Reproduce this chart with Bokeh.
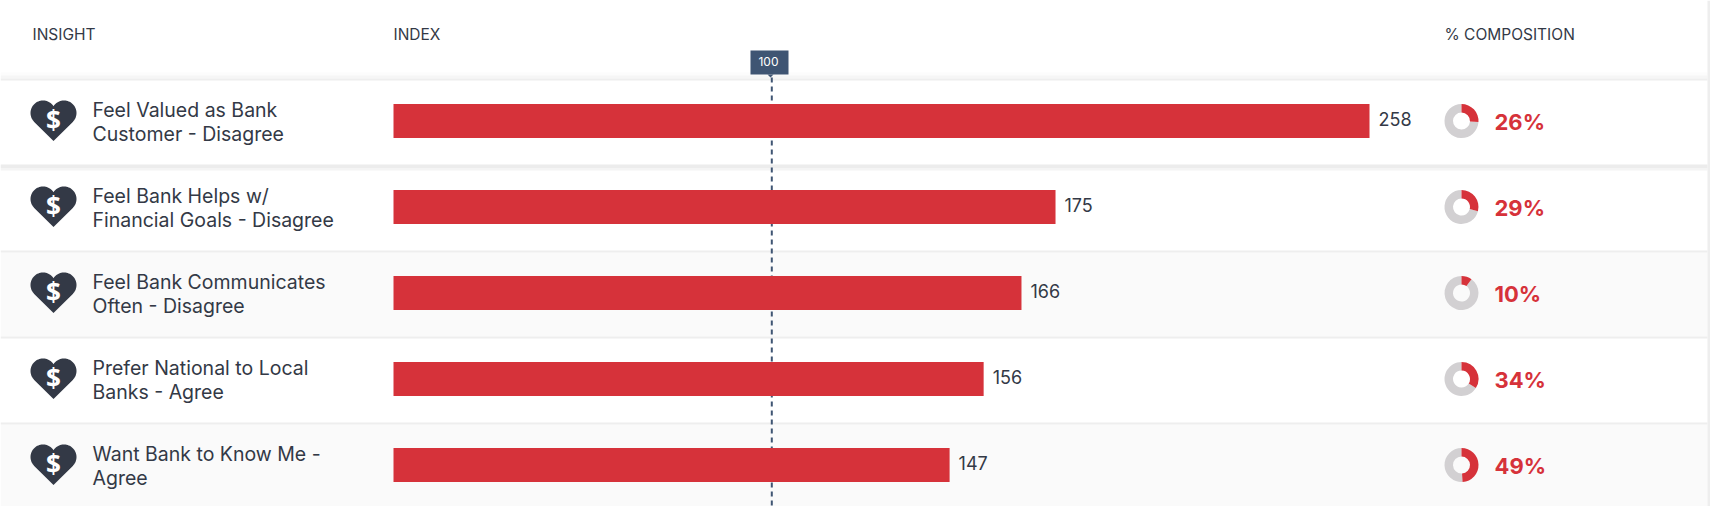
import numpy as np
from bokeh.plotting import figure
from bokeh.models import Range1d
from bokeh.core.properties import value
from bokeh.embed import file_html
from bokeh.resources import INLINE

labels_top = ["Feel Valued as Bank", "Feel Bank Helps w/", "Feel Bank Communicates", "Prefer National to Local", "Want Bank to Know Me -"]
labels_bottom = ["Customer - Disagree", "Financial Goals - Disagree", "Often - Disagree", "Banks - Agree", "Agree"]
index_values = [258, 175, 166, 156, 147]
composition = [26, 29, 10, 34, 49]
reference_index = 100
headers = ["INSIGHT", "INDEX", "% COMPOSITION"]

FONT = "Inter"
DARK = "#333946"
RED = "#d6323a"
NAVY = "#3f5573"
GREY = "#d2d0d2"

W, H = 1710, 506
ROW0, PITCH = 120.5, 86
BAR_X0, PX_PER_INDEX = 393, 3.783
rows = np.arange(len(index_values))
cy = ROW0 + PITCH * rows

p = figure(width=W, height=H, output_backend="svg", toolbar_location=None, min_border=0,
           x_range=Range1d(-BAR_X0 / PX_PER_INDEX, (W - BAR_X0) / PX_PER_INDEX), y_range=Range1d(H, 0))
p.extra_x_ranges = {"px": Range1d(0, W)}
p.axis.visible = False
p.grid.visible = False
p.outline_line_color = None
p.background_fill_color = "white"

# row backgrounds and separators
bands_top = [80, 170, 252, 338, 424]
bands_bot = [164, 250, 336, 422, 506]
fills = ["#ffffff", "#ffffff", "#fafafa", "#ffffff", "#fafafa"]
p.quad(left=0, right=1707, top=bands_top, bottom=bands_bot, fill_color=fills, line_color=None, x_range_name="px")
p.quad(left=0, right=1707, top=[72, 75, 78], bottom=[75, 78, 80], fill_color=["#fcfcfc", "#f6f6f6", "#eeeeee"], line_color=None, x_range_name="px")
p.quad(left=0, right=1707, top=[164, 168], bottom=[168, 170], fill_color=["#ececec", "#f4f4f4"], line_color=None, x_range_name="px")
p.quad(left=0, right=1707, top=[250, 336, 422], bottom=[252, 338, 424], fill_color="#eeeeee", line_color=None, x_range_name="px")
p.quad(left=1707, right=1710, top=0, bottom=506, fill_color="#eeeeee", line_color=None, x_range_name="px")

# reference line and flag
p.segment(x0=[reference_index], x1=[reference_index], y0=[77], y1=[506], line_color=NAVY, line_width=2, line_dash="5 4")
p.quad(left=750, right=788, top=50, bottom=74, fill_color=NAVY, line_color=None, x_range_name="px")
p.patch([767, 773, 770], [74, 74, 77], fill_color=NAVY, line_color=None, x_range_name="px")
p.text(x=[768], y=[61], text=[str(reference_index)], text_font=value(FONT), text_font_size="12px", text_color="white",
       text_align="center", text_baseline="middle", x_range_name="px")

# bars
p.hbar(y=cy, left=0, right=index_values, height=34, fill_color=RED, line_color=None)
p.text(x=index_values, y=cy - 2, text=[str(v) for v in index_values], x_offset=9, text_font=value(FONT), text_font_size="18px",
       text_color=DARK, text_align="left", text_baseline="middle")

# headers
p.text(x=[32, 393, 1444], y=[34] * 3, text=headers, text_font=value(FONT), text_font_size="15.5px", text_color=DARK,
       text_align="left", text_baseline="middle", x_range_name="px")

# insight labels
p.text(x=[92] * 5, y=cy - 11.5, text=labels_top, text_font=value(FONT), text_font_size="19.5px", text_color=DARK,
       text_align="left", text_baseline="middle", x_range_name="px")
p.text(x=[92] * 5, y=cy + 12.5, text=labels_bottom, text_font=value(FONT), text_font_size="19.5px", text_color=DARK,
       text_align="left", text_baseline="middle", x_range_name="px")

# heart icons: two round lobes with straight sides down to a point
R, LX, LY, TIP = 12.5, 10.5, -8.0, 20.0
d = np.hypot(LX, TIP - LY)
base = np.arctan2(TIP - LY, -LX)
tangent = base - np.arccos(R / d)
notch = np.arctan2(-np.sqrt(R**2 - LX**2), -LX)
if notch > 0:
    notch -= 2 * np.pi
a = np.linspace(notch, tangent, 40)
if tangent > notch + 2 * np.pi:
    a = np.linspace(notch, tangent - 2 * np.pi, 40)
rx = LX + R * np.cos(a)
ry = LY + R * np.sin(a)
hx = np.concatenate([rx, [0], -rx[::-1]])
hy = np.concatenate([ry, [TIP], ry[::-1]])
p.patches(xs=[(53 + hx).tolist() for _ in rows], ys=[(c + hy).tolist() for c in cy], fill_color=DARK, line_color=None, x_range_name="px")
p.text(x=[53] * 5, y=cy - 1, text=["$"] * 5, text_font=value("Open Sans"), text_font_size="26px", text_font_style="bold", text_color="white",
       text_align="center", text_baseline="middle", x_range_name="px")

# donuts
comp = np.array(composition) / 100
ends = np.pi / 2 - 2 * np.pi * comp
p.annular_wedge(x=[1461] * 5, y=cy, inner_radius=8.5, outer_radius=17, inner_radius_units="screen", outer_radius_units="screen",
                start_angle=ends, end_angle=np.pi / 2, direction="clock", fill_color=GREY, line_color=None, x_range_name="px")
p.annular_wedge(x=[1461] * 5, y=cy, inner_radius=8.5, outer_radius=17, inner_radius_units="screen", outer_radius_units="screen",
                start_angle=np.pi / 2, end_angle=ends, direction="clock", fill_color=RED, line_color=None, x_range_name="px")
p.text(x=[1494] * 5, y=cy + 1, text=[f"{c}%" for c in composition], text_font=value(FONT), text_font_size="22px", text_font_style="bold",
       text_color=RED, text_align="left", text_baseline="middle", x_range_name="px")

open("out.html", "w").write(file_html(p, INLINE))
